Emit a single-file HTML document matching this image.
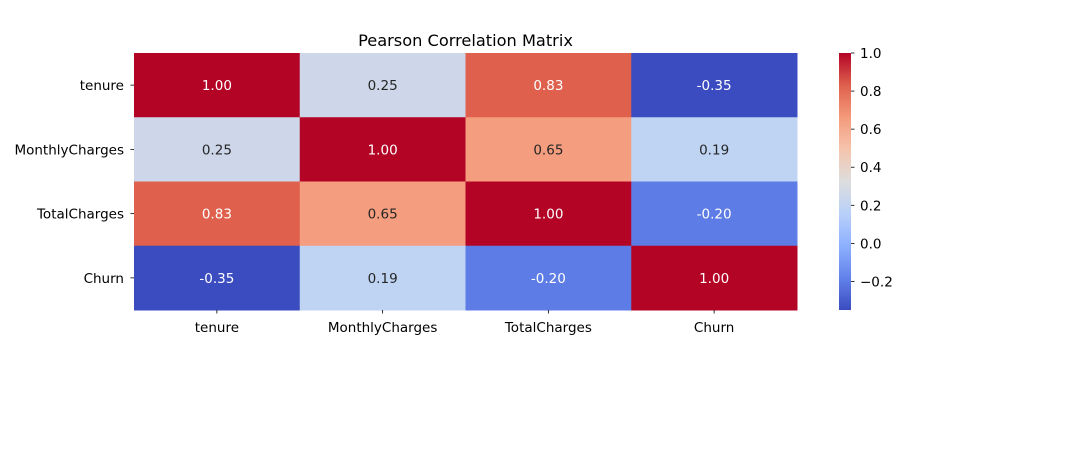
<!DOCTYPE html>
<html><head><meta charset="utf-8"><style>
body{margin:0;background:#fff;}
svg text{font-family:"DejaVu Sans","Liberation Sans",sans-serif;}
</style></head><body>
<svg id="chart" width="1070" height="444" xmlns="http://www.w3.org/2000/svg">
<rect width="1070" height="444" fill="#fff"/>
<text x="465.5" y="46" font-size="16.2" text-anchor="middle">Pearson Correlation Matrix</text>
<g id="cells"></g><g id="xt"></g><g id="yt"></g>
<defs><linearGradient id="cbg" x1="0" y1="1" x2="0" y2="0"></linearGradient></defs>
<rect x="839" y="53" width="12" height="257" fill="url(#cbg)"/>
<g id="cbt"></g>
</svg>
<script>
const labels=["tenure","MonthlyCharges","TotalCharges","Churn"];
const row0=[1.00,0.25,0.83,-0.35];
const row1=[0.25,1.00,0.65,0.19];
const row2=[0.83,0.65,1.00,-0.20];
const row3=[-0.35,0.19,-0.20,1.00];
const cbTicks=[-0.2,0.0,0.2,0.4,0.6,0.8,1.0];
const matrix=[row0,row1,row2,row3];
const vmin=Math.min(...matrix.flat()),vmax=Math.max(...matrix.flat());
const X0=134,X1=797,Y0=53,Y1=310;
const cw=(X1-X0)/labels.length,ch=(Y1-Y0)/labels.length;
const FS=13.5;
const stops=[[59,76,192],[98,130,234],[141,176,254],[184,208,249],[221,221,221],[245,196,173],[244,154,123],[222,96,77],[180,4,38]];
function cmap(t){t=Math.max(0,Math.min(1,t));const p=t*8,i=Math.min(7,Math.floor(p)),f=p-i;return stops[i].map((c,k)=>Math.round(c+(stops[i+1][k]-c)*f));}
function norm(v){return (v-vmin)/(vmax-vmin);}
function lum(c){const l=c.map(x=>{x/=255;return x<=0.03928?x/12.92:Math.pow((x+0.055)/1.055,2.4)});return 0.2126*l[0]+0.7152*l[1]+0.0722*l[2];}
const NS="http://www.w3.org/2000/svg";
function mk(t,a,p){const e=document.createElementNS(NS,t);for(const k in a)e.setAttribute(k,a[k]);p.appendChild(e);return e;}
const cells=document.getElementById('cells');
matrix.forEach((row,i)=>row.forEach((v,j)=>{
 const c=cmap(norm(v));
 const r=mk('rect',{x:X0+j*cw,y:Y0+i*ch,width:cw+0.5,height:ch+0.5,fill:`rgb(${c})`},cells);
 
 
 const t=mk('text',{x:X0+(j+0.5)*cw,y:Y0+(i+0.5)*ch+5,'font-size':FS,'text-anchor':'middle',fill:lum(c)>0.408?'#262626':'#fff'},cells);
 t.textContent=v.toFixed(2);
 
 
}));
const xt=document.getElementById('xt'),yt=document.getElementById('yt');
labels.forEach((l,i)=>{
 const x=X0+(i+0.5)*cw;
 mk('line',{x1:x,x2:x,y1:Y1,y2:Y1+3.5,stroke:'#000','stroke-width':0.8},xt);
 const t=mk('text',{x:x,y:Y1+22,'font-size':FS,'text-anchor':'middle'},xt);t.textContent=l;
 
 
 const y=Y0+(i+0.5)*ch;
 mk('line',{x1:X0-3.5,x2:X0,y1:y,y2:y,stroke:'#000','stroke-width':0.8},yt);
 const u=mk('text',{x:X0-10,y:y+5,'font-size':FS,'text-anchor':'end'},yt);u.textContent=l;
 
 
});
const g=document.getElementById('cbg');
for(let k=0;k<=16;k++)mk('stop',{offset:k/16,'stop-color':`rgb(${cmap(k/16)})`},g);
const cbt=document.getElementById('cbt');
cbTicks.forEach(v=>{
 const y=Y1-(v-vmin)/(vmax-vmin)*(Y1-Y0);
 mk('line',{x1:851,x2:854.5,y1:y,y2:y,stroke:'#000','stroke-width':0.8},cbt);
 const t=mk('text',{x:860,y:y+5,'font-size':FS},cbt);t.textContent=(v<0?'\u2212':'')+Math.abs(v).toFixed(1);
 
 
});
</script>
</body></html>
